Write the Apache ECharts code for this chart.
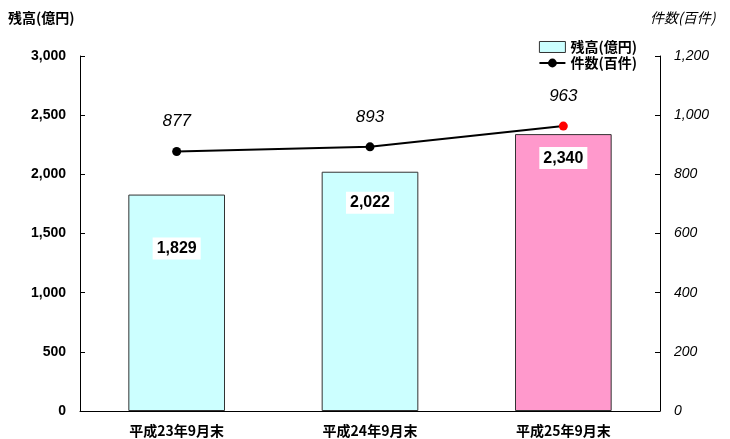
<!DOCTYPE html>
<html><head><meta charset="utf-8">
<script src="https://cdn.jsdelivr.net/npm/echarts@6/dist/echarts.min.js"></script>
<style>html,body{margin:0;padding:0;background:#fff}#c{width:730px;height:439px}</style>
</head><body><div id="c"></div>
<script>
const categories = ['平成23年9月末', '平成24年9月末', '平成25年9月末'];
const balance = [1829, 2022, 2340];
const counts = [877, 893, 963];
const leftTicks = [0, 500, 1000, 1500, 2000, 2500, 3000];
const rightTicks = [0, 200, 400, 600, 800, 1000, 1200];

const barColors = ['#CCFFFF', '#CCFFFF', '#FF99CC'];
const barLabelDist = [43, 20, 13];
const jp = '"Noto Sans CJK JP", "Liberation Sans", sans-serif';
const num = '"Liberation Sans", Arial, sans-serif';
const fmt = v => v.toLocaleString('en-US');

const chart = echarts.init(document.getElementById('c'));
chart.setOption({
  animation: false,
  grid: { left: 80, right: 70, top: 56, bottom: 28 },
  legend: {
    right: 88, top: 35, orient: 'vertical', itemGap: 2, itemWidth: 26, itemHeight: 11,
    textStyle: { fontFamily: jp, fontWeight: 'bold', fontSize: 14, color: '#000' },
    data: [
      { name: '残高(億円)', icon: 'rect', itemStyle: { color: '#CCFFFF', borderColor: '#333', borderWidth: 1 } },
      { name: '件数(百件)' }
    ]
  },
  graphic: [
    { type: 'text', left: 8, top: 11, style: { text: '残高(億円)', font: 'bold 14px ' + jp, fill: '#000' } },
    { type: 'text', left: 650, top: 11, style: { text: '件数(百件)', font: 'italic 14px ' + jp, fill: '#000' } }
  ],
  xAxis: {
    type: 'category', data: categories,
    axisLine: { lineStyle: { color: '#000' } },
    axisTick: { inside: true, length: 5, lineStyle: { color: '#000' } },
    axisLabel: { fontFamily: jp, fontWeight: 'bold', fontSize: 14, color: '#000', margin: 13 }
  },
  yAxis: [
    {
      type: 'value', min: 0, max: 3000, interval: 500,
      axisLine: { show: true, lineStyle: { color: '#000' } },
      axisTick: { show: true, inside: true, length: 5, lineStyle: { color: '#000' } },
      splitLine: { show: false },
      axisLabel: { fontFamily: num, fontWeight: 'bold', fontSize: 14, color: '#000', margin: 14,
        formatter: v => fmt(v) }
    },
    {
      type: 'value', min: 0, max: 1200, interval: 200,
      axisLine: { show: true, lineStyle: { color: '#000' } },
      axisTick: { show: true, inside: true, length: 5, lineStyle: { color: '#000' } },
      splitLine: { show: false },
      axisLabel: { fontFamily: num, fontStyle: 'italic', fontSize: 14, color: '#000', margin: 14,
        formatter: v => fmt(v) }
    }
  ],
  series: [
    {
      name: '残高(億円)', type: 'bar', barWidth: '50%', yAxisIndex: 0,
      data: balance.map((v, i) => ({
        value: v,
        itemStyle: { color: barColors[i], borderColor: '#333', borderWidth: 1 },
        label: { show: true, position: 'insideTop', distance: barLabelDist[i],
          formatter: p => fmt(p.value), backgroundColor: '#fff', padding: [3, 4],
          fontFamily: num, fontWeight: 'bold', fontSize: 16, color: '#000' }
      }))
    },
    {
      name: '件数(百件)', type: 'line', yAxisIndex: 1,
      symbol: 'circle', symbolSize: 9,
      lineStyle: { color: '#000', width: 2 },
      itemStyle: { color: '#000' },
      data: counts.map((v, i) => ({
        value: v,
        itemStyle: { color: i === counts.length - 1 ? '#FF0000' : '#000' }
      })),
      label: { show: true, position: 'top', distance: 17,
        fontFamily: num, fontStyle: 'italic', fontSize: 17, color: '#000' }
    }
  ]
});
</script></body></html>
